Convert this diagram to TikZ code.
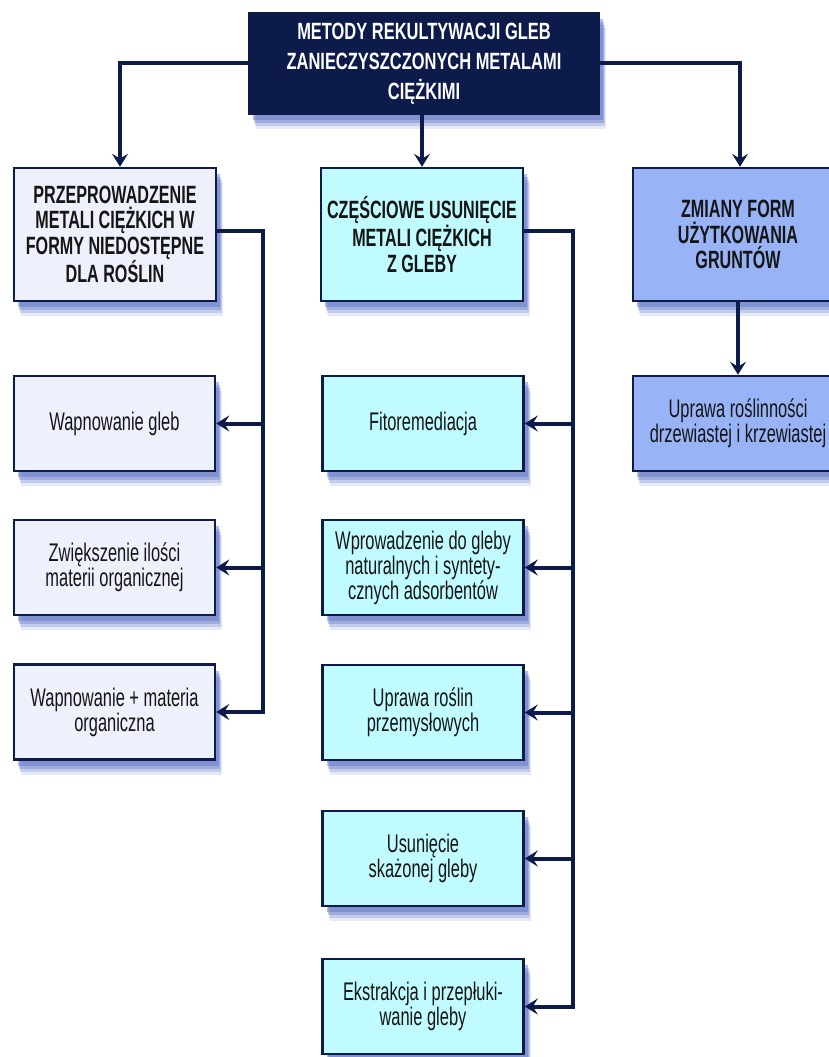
\documentclass[tikz,border=0pt]{standalone}
\usepackage{fontspec}
\setmainfont[FakeStretch=0.645]{Liberation Sans}
\newfontfamily\topfont[FakeStretch=0.70]{Liberation Sans}
\usetikzlibrary{arrows.meta,shadows}
\definecolor{navy}{HTML}{0D1B4B}
\definecolor{txt}{HTML}{151515}
\definecolor{lav}{HTML}{EEF0FB}
\definecolor{cyanb}{HTML}{C0FCFF}
\definecolor{blueb}{HTML}{99B3F7}
\definecolor{shc}{HTML}{5A72C4}
\tikzset{
  shad/.style={
    drop shadow={shadow xshift=7pt,shadow yshift=-15pt,fill=shc,opacity=0.15},
    drop shadow={shadow xshift=6pt,shadow yshift=-12pt,fill=shc,opacity=0.25},
    drop shadow={shadow xshift=5pt,shadow yshift=-9pt,fill=shc,opacity=0.35},
    drop shadow={shadow xshift=4pt,shadow yshift=-6pt,fill=shc,opacity=0.45}},
  box/.style={draw=navy, line width=2.5pt, inner sep=0pt, align=center, text=txt, shad},
  topbox/.style={box, fill=navy, text=white, font=\topfont\fontsize{23.5}{30}\selectfont\bfseries,
    minimum width=350pt, minimum height=101pt},
  head/.style={box, font=\fontsize{25}{25.5}\selectfont\bfseries, minimum width=202pt, minimum height=133pt},
  item/.style={box, font=\fontsize{25.5}{25}\selectfont, minimum width=201pt, minimum height=95pt},
  conn/.style={draw=navy, line width=4pt},
  arr/.style={conn, -{Stealth[length=13pt,width=16pt,inset=5pt]}}
}
\begin{document}
\begin{tikzpicture}[x=1pt,y=-1pt]
\useasboundingbox (0,0) rectangle (829,1057);
\clip (0,0) rectangle (829,1057);
% top
\node[topbox] (top) at (424,63.5) {METODY REKULTYWACJI GLEB\\ZANIECZYSZCZONYCH METALAMI\\CIĘŻKIMI};
% headers
\node[head, fill=lav] (lh) at (115,234.5) {PRZEPROWADZENIE\\METALI CIĘŻKICH W\\FORMY NIEDOSTĘPNE\\DLA ROŚLIN};
\node[head, fill=cyanb] (mh) at (422,234.5) {CZĘŚCIOWE USUNIĘCIE\\METALI CIĘŻKICH\\Z GLEBY};
\node[head, fill=blueb, minimum width=210pt] (rh) at (738,234.5) {ZMIANY FORM\\UŻYTKOWANIA\\GRUNTÓW};
% left items
\node[item, fill=lav] (l1) at (114.5,423.5) {Wapnowanie gleb};
\node[item, fill=lav] (l2) at (114.5,567.5) {Zwiększenie ilości\\materii organicznej};
\node[item, fill=lav] (l3) at (114.5,712) {Wapnowanie + materia\\organiczna};
% middle items
\node[item, fill=cyanb] (m1) at (423,423.5) {Fitoremediacja};
\node[item, fill=cyanb] (m2) at (423,567.5) {Wprowadzenie do gleby\\naturalnych i syntety-\\cznych adsorbentów};
\node[item, fill=cyanb] (m3) at (423,712.5) {Uprawa roślin\\przemysłowych};
\node[item, fill=cyanb] (m4) at (423,858.5) {Usunięcie\\skażonej gleby};
\node[item, fill=cyanb] (m5) at (423,1006.5) {Ekstrakcja i przepłuki-\\wanie gleby};
% right item
\node[item, fill=blueb, minimum width=210pt] (r1) at (738,423.5) {Uprawa roślinności\\drzewiastej i krzewiastej};
% connectors from top
\draw[arr] (top.west) -| ([xshift=5pt]lh.north);
\draw[arr] (mh.north |- top.south) -- (mh.north);
\draw[arr] (top.east) -| ([xshift=2pt]rh.north);
% left bus
\coordinate (lb) at (263,231);
\draw[arr] (lh.east |- lb) -- (lb) |- (l3.east);
\draw[arr] (lb |- l1.east) -- (l1.east);
\draw[arr] (lb |- l2.east) -- (l2.east);
% middle bus
\coordinate (mb) at (573,231);
\draw[arr] (mh.east |- mb) -- (mb) |- (m5.east);
\draw[arr] (mb |- m1.east) -- (m1.east);
\draw[arr] (mb |- m2.east) -- (m2.east);
\draw[arr] (mb |- m3.east) -- (m3.east);
\draw[arr] (mb |- m4.east) -- (m4.east);
% right
\draw[arr] (rh.south) -- (r1.north);
\end{tikzpicture}
\end{document}
